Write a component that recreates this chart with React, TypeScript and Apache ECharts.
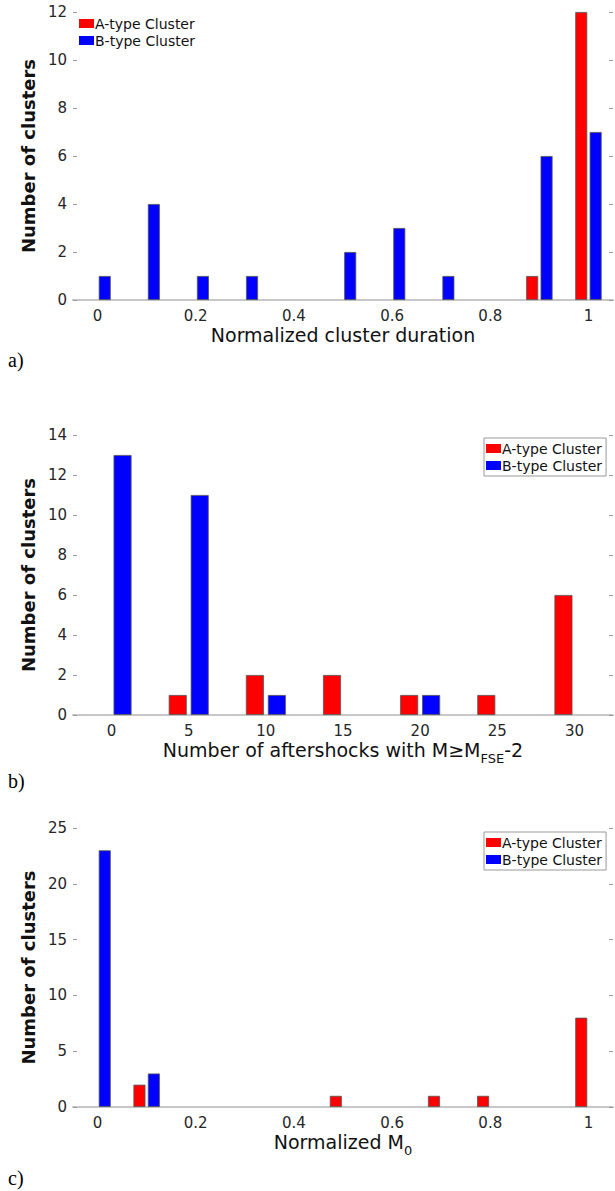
import React, { useEffect, useRef } from "react";
import * as echarts from "echarts";

// ---- data ----
const durationBins = ["0", "0.1", "0.2", "0.3", "0.4", "0.5", "0.6", "0.7", "0.8", "0.9", "1"];
const durationA = [0, 0, 0, 0, 0, 0, 0, 0, 0, 1, 12];
const durationB = [1, 4, 1, 1, 0, 2, 3, 1, 0, 6, 7];

const aftershockBins = ["0", "5", "10", "15", "20", "25", "30"];
const aftershockA = [0, 1, 2, 2, 1, 1, 6];
const aftershockB = [13, 11, 1, 0, 1, 0, 0];

const m0Bins = ["0", "0.1", "0.2", "0.3", "0.4", "0.5", "0.6", "0.7", "0.8", "0.9", "1"];
const m0A = [0, 2, 0, 0, 0, 1, 0, 1, 1, 0, 8];
const m0B = [23, 3, 0, 0, 0, 0, 0, 0, 0, 0, 0];

const yMax = [12, 14, 25];
const yStep = [2, 2, 5];
const seriesNames = ["A-type Cluster", "B-type Cluster"];
const panelLabels = ["a)", "b)", "c)"];

const FONT = "DejaVu Sans";
const RED = "#ff0000";
const BLUE = "#0000ff";

export default function App() {
  const ref = useRef<HTMLDivElement>(null);
  useEffect(() => {
    if (!ref.current) return;
    const chart = echarts.init(ref.current, null, { renderer: "svg" });

    const grids = [
      { left: 73, right: 2, top: 12, height: 288 },
      { left: 73, right: 2, top: 435, height: 280 },
      { left: 73, right: 2, top: 828, height: 279 },
    ];
    const cats = [durationBins, aftershockBins, m0Bins];
    const labelInterval = [1, 0, 1];
    const barW = [12, 18, 12];
    const gaps = ["20%", "22%", "20%"];
    const dataA = [durationA, aftershockA, m0A];
    const dataB = [durationB, aftershockB, m0B];
    const titleStyle = { fontFamily: FONT, fontSize: 19, color: "#111" };
    const xNames = [
      "Normalized cluster duration",
      "{m|Number of aftershocks with M≥M}{s|FSE}{m|-2}",
      "{m|Normalized M}{s|0}",
    ];
    const rich = {
      m: { fontFamily: FONT, fontSize: 19, color: "#111", lineHeight: 22, verticalAlign: "top" },
      s: { fontFamily: FONT, fontSize: 13, color: "#111", lineHeight: 14, padding: [12, 0, 0, 0], verticalAlign: "top" },
    };

    const axisLineStyle = { color: "#c4c4c4", width: 1.5 };
    const tickStyle = { color: "#999", width: 1 };

    const xAxis: any[] = [];
    const yAxis: any[] = [];
    const series: any[] = [];
    for (let i = 0; i < 3; i++) {
      xAxis.push({
        type: "category",
        gridIndex: i,
        data: cats[i],
        axisLine: { lineStyle: axisLineStyle },
        axisTick: { inside: true, length: 5, alignWithLabel: true, interval: labelInterval[i], lineStyle: tickStyle },
        axisLabel: { interval: labelInterval[i], margin: 8, fontSize: 15, fontFamily: FONT, color: "#262626" },
        name: xNames[i],
        nameLocation: "middle",
        nameGap: 25,
        nameTextStyle: i === 0 ? { ...titleStyle, verticalAlign: "top" } : { rich, verticalAlign: "top" },
      });
      xAxis.push({
        type: "category",
        gridIndex: i,
        position: "top",
        data: cats[i],
        axisLine: { lineStyle: axisLineStyle },
        axisTick: { inside: true, length: 5, alignWithLabel: true, interval: labelInterval[i], lineStyle: tickStyle },
        axisLabel: { show: false },
      });
      yAxis.push({
        type: "value",
        gridIndex: i,
        min: 0,
        max: yMax[i],
        interval: yStep[i],
        axisLine: { show: false },
        axisTick: { show: true, inside: true, length: 4, lineStyle: tickStyle },
        splitLine: { show: false },
        axisLabel: { margin: 6, fontSize: 15, fontFamily: FONT, color: "#262626" },
        name: "Number of clusters",
        nameLocation: "middle",
        nameGap: 26,
        nameTextStyle: { fontFamily: FONT, fontSize: 18, fontWeight: "bold", color: "#111" },
      });
      yAxis.push({
        type: "value",
        gridIndex: i,
        position: "right",
        min: 0,
        max: yMax[i],
        interval: yStep[i],
        axisLine: { show: false },
        axisTick: { show: true, inside: true, length: 4, lineStyle: tickStyle },
        splitLine: { show: false },
        axisLabel: { show: false },
      });
      const mk = (arr: number[]) => arr.map((v) => (v === 0 ? null : v));
      series.push({
        type: "bar",
        name: seriesNames[0],
        xAxisIndex: 2 * i,
        yAxisIndex: 2 * i,
        data: mk(dataA[i]),
        barWidth: barW[i],
        barGap: gaps[i],
        itemStyle: { color: RED, borderColor: "#555", borderWidth: 0.8 },
      });
      series.push({
        type: "bar",
        name: seriesNames[1],
        xAxisIndex: 2 * i,
        yAxisIndex: 2 * i,
        data: mk(dataB[i]),
        barWidth: barW[i],
        barGap: gaps[i],
        itemStyle: { color: BLUE, borderColor: "#555", borderWidth: 0.8 },
      });
    }

    const legendBase = {
      orient: "vertical",
      icon: "rect",
      itemWidth: 15,
      itemHeight: 9,
      itemGap: 2,
      data: seriesNames,
      itemStyle: { borderWidth: 0 },
      textStyle: { fontFamily: FONT, fontSize: 14, color: "#111", lineHeight: 15, padding: [0, 0, 0, -4] },
      padding: [3, 4, 3, 2],
    };
    const legend = [
      { ...legendBase, left: 77, top: 13, backgroundColor: "#fff" },
      { ...legendBase, left: 484, top: 438, backgroundColor: "#fff", borderColor: "#999", borderWidth: 1 },
      { ...legendBase, left: 484, top: 832, backgroundColor: "#fff", borderColor: "#999", borderWidth: 1 },
    ];

    const labelY = [361, 782, 1179];
    const graphic = panelLabels.map((t, i) => ({
      type: "text",
      left: 8,
      top: labelY[i] - 11,
      style: { text: t, fontFamily: "Liberation Serif", fontSize: 20, fill: "#000" },
    }));

    chart.setOption({
      animation: false,
      backgroundColor: "#fff",
      grid: grids,
      xAxis,
      yAxis,
      series,
      legend,
      graphic,
    });
    return () => chart.dispose();
  }, []);
  return (
    <div
      ref={ref}
      style={{ position: "absolute", left: 0, top: 0, width: 615, height: 1191, background: "#fff" }}
    />
  );
}
